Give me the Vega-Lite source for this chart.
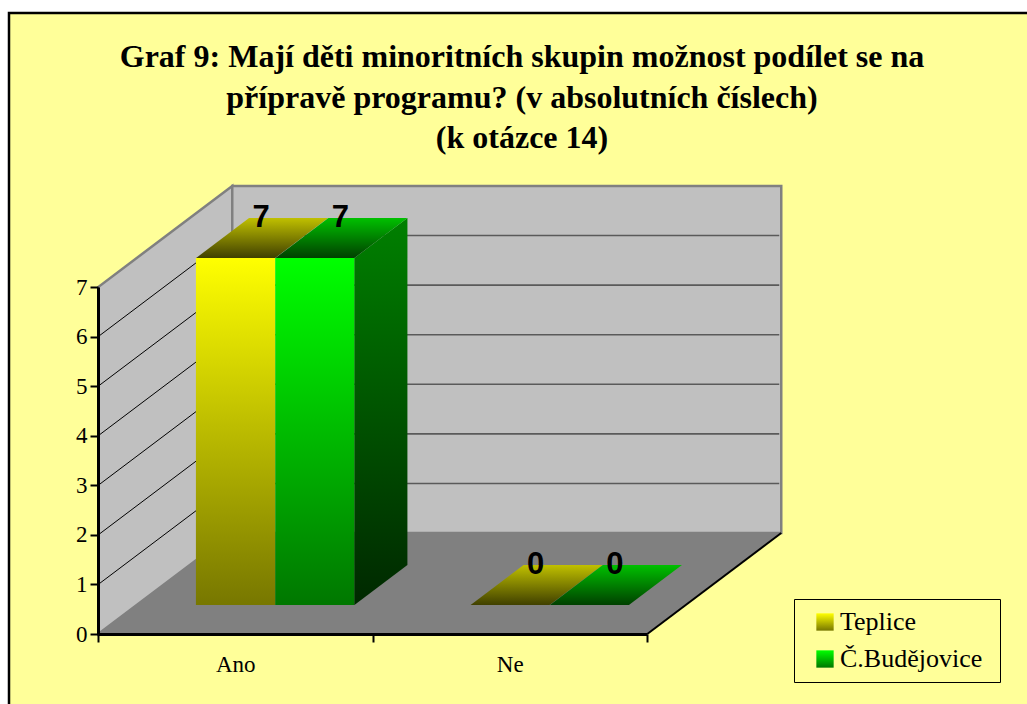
{
"$schema":"https://vega.github.io/schema/vega-lite/v6.json",
"autosize":{"type":"none"},
"padding":{"left":9,"top":13,"right":0,"bottom":0},
"width":1020,"height":693,
"background":"#ffffff",
"view":{"fill":"#ffff99","stroke":"#000000","strokeWidth":2.5},
"title":{"text":["Graf 9: Mají děti minoritních skupin možnost podílet se na","přípravě programu? (v absolutních číslech)","(k otázce 14)"],"font":"Liberation Serif","fontWeight":"bold","fontSize":32,"lineHeight":40.5,"color":"#000000","anchor":"middle","frame":"group","orient":"top","baseline":"top","offset":-142,"dx":3},
"data":{"values":[
{"cat":"Ano","series":"Teplice","value":7},
{"cat":"Ano","series":"Č.Budějovice","value":7},
{"cat":"Ne","series":"Teplice","value":0},
{"cat":"Ne","series":"Č.Budějovice","value":0}
]},
"resolve":{"scale":{"x":"independent","y":"independent"}},
"encoding":{
"x":{"field":"cat","type":"nominal","title":null,"axis":null,"scale":{"domain":["Ano","Ne"],"range":[89,638],"paddingInner":0,"paddingOuter":0}},
"y":{"field":"value","type":"quantitative","title":null,"axis":null,"stack":null,"scale":{"domain":[0,7],"range":[621,274],"nice":false,"zero":true}}
},
"layer":[
{"data":{"values":[{"cat":"Ano","value":0}]},
 "encoding":{
 "x":{"field":"cat","type":"nominal","title":null,"scale":{"domain":["Ano","Ne"],"range":[89,638],"paddingInner":0,"paddingOuter":0},
 "axis":{"orient":"bottom","offset":-72,"labelAngle":0,"tickBand":"extent","domainColor":"#000000","domainWidth":3,"tickColor":"#000000","tickWidth":2,"tickSize":8,"labelFont":"Liberation Serif","labelFontSize":23,"labelColor":"#000000","labelPadding":11,"grid":false,"zindex":1}},
 "y":{"field":"value","type":"quantitative","title":null,"stack":null,"scale":{"domain":[0,7],"range":[621,274],"nice":false,"zero":true},
 "axis":{"orient":"left","offset":-89,"values":[0,1,2,3,4,5,6,7],"format":"d","domainColor":"#000000","domainWidth":3,"tickColor":"#000000","tickWidth":2,"tickSize":8,"labelFont":"Liberation Serif","labelFontSize":23,"labelColor":"#000000","labelPadding":3,"grid":false,"zindex":1}}
 },
 "layer":[
 {"mark":{"type":"point","shape":"M-137,0L-3,-101L-3,-448L-137,-347Z","size":4,"filled":true,"fill":"#c0c0c0","stroke":"#808080","strokeWidth":2.5,"opacity":1}},
 {"mark":{"type":"point","shape":"M-3,-101L546,-101L546,-448L-3,-448Z","size":4,"filled":true,"fill":"#c0c0c0","stroke":"#808080","strokeWidth":2.5,"opacity":1}},
 {"mark":{"type":"point","shape":"M-137,0L412,0L546,-101L-3,-101Z","size":4,"filled":true,"fill":"#808080","stroke":"#808080","strokeWidth":1,"opacity":1}},
 {"mark":{"type":"point","shape":"M412,0L546,-101","size":4,"filled":false,"stroke":"#000000","strokeWidth":2,"opacity":1}}
 ]},
{"data":{"values":[{"cat":"Ano","value":1},{"cat":"Ano","value":2},{"cat":"Ano","value":3},{"cat":"Ano","value":4},{"cat":"Ano","value":5},{"cat":"Ano","value":6}]},
 "layer":[
 {"mark":{"type":"point","shape":"M-137,0L-3,-101","size":4,"filled":false,"stroke":"#000000","strokeWidth":1,"opacity":1}},
 {"mark":{"type":"point","shape":"M-3,-101L544,-101","size":4,"filled":false,"stroke":"#5a5a5a","strokeWidth":1.6,"opacity":1}}
 ]},
{"mark":{"type":"bar","stroke":null},
 "encoding":{
 "x":{"field":"cat","type":"nominal","title":null,"axis":null,"scale":{"domain":["Ano","Ne"],"range":[129,678],"paddingInner":0,"paddingOuter":0}},
 "y":{"field":"value","type":"quantitative","title":null,"axis":null,"stack":null,"scale":{"domain":[0,7],"range":[592,245],"nice":false,"zero":true}},
 "xOffset":{"field":"series","type":"nominal","scale":{"domain":["Teplice","Č.Budějovice"],"range":[0,274.5],"paddingOuter":0.73,"paddingInner":0}},
 "fill":{"field":"series","type":"nominal","scale":{"domain":["Teplice","Č.Budějovice"],"range":[
 {"expr":"{gradient:'linear',x1:0,y1:0,x2:0,y2:1,stops:[{offset:0,color:'#ffff00'},{offset:1,color:'#777700'}]}"},
 {"expr":"{gradient:'linear',x1:0,y1:0,x2:0,y2:1,stops:[{offset:0,color:'#00ff00'},{offset:1,color:'#007700'}]}"}]},
 "legend":{"title":"\u00a0","titleOrient":"right","titlePadding":8,"titleFontSize":1,"titleOpacity":0,"orient":"none","legendX":785,"legendY":586,"symbolType":"square","symbolSize":300,"symbolStrokeWidth":0,"symbolOffset":8,"labelFont":"Liberation Serif","labelFontSize":26,"labelColor":"#000000","labelOffset":2,"rowPadding":11,"padding":10,"fillColor":"#ffff99","strokeColor":"#000000","encode":{"legend":{"update":{"strokeWidth":{"value":2.5}}}}}}
 }},
{"transform":[{"filter":"datum.series==='Č.Budějovice' && datum.value>0"}],
 "mark":{"type":"point","shape":"M79.5,-29L132.5,-69L132.5,278L79.5,318Z","size":4,"filled":true,"opacity":1,"strokeWidth":0,
 "fill":{"gradient":"linear","x1":0,"y1":0,"x2":0,"y2":1,"stops":[{"offset":0,"color":"#008000"},{"offset":1,"color":"#002800"}]}},
 "encoding":{"xOffset":{"field":"series","type":"nominal","scale":{"domain":["Teplice","Č.Budějovice"],"range":[0,274.5],"paddingOuter":0.73,"paddingInner":0}}}},
{"transform":[{"filter":"datum.series==='Teplice'"}],
 "mark":{"type":"point","shape":"M0.5,-29L79.5,-29L132.5,-69L53.5,-69Z","size":4,"filled":true,"opacity":1,"strokeWidth":0,
 "fill":{"gradient":"linear","x1":0,"y1":1,"x2":0,"y2":0,"stops":[{"offset":0,"color":"#404000"},{"offset":1,"color":"#c0c000"}]}},
 "encoding":{"xOffset":{"field":"series","type":"nominal","scale":{"domain":["Teplice","Č.Budějovice"],"range":[0,274.5],"paddingOuter":0.73,"paddingInner":0}}}},
{"transform":[{"filter":"datum.series==='Č.Budějovice'"}],
 "mark":{"type":"point","shape":"M0.5,-29L79.5,-29L132.5,-69L53.5,-69Z","size":4,"filled":true,"opacity":1,"strokeWidth":0,
 "fill":{"gradient":"linear","x1":0,"y1":1,"x2":0,"y2":0,"stops":[{"offset":0,"color":"#004000"},{"offset":1,"color":"#00c000"}]}},
 "encoding":{"xOffset":{"field":"series","type":"nominal","scale":{"domain":["Teplice","Č.Budějovice"],"range":[0,274.5],"paddingOuter":0.73,"paddingInner":0}}}},
{"mark":{"type":"text","font":"Liberation Sans","fontWeight":"bold","fontSize":31,"color":"#000000","align":"center","baseline":"middle","dx":65.5,"dy":-69},
 "encoding":{"text":{"field":"value","type":"quantitative"},
 "xOffset":{"field":"series","type":"nominal","scale":{"domain":["Teplice","Č.Budějovice"],"range":[0,274.5],"paddingOuter":0.73,"paddingInner":0}}}}
]
}
